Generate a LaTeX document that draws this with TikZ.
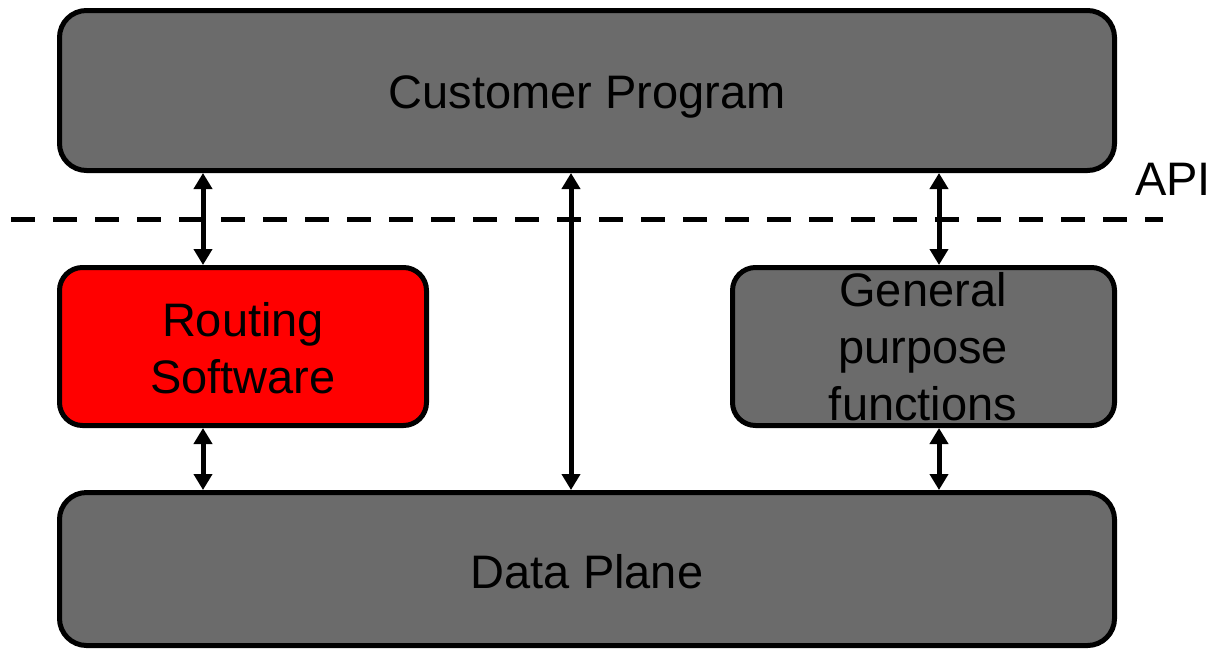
\documentclass[tikz,border=0pt]{standalone}
\usepackage{fontspec}
\setmainfont{Liberation Sans}
\usetikzlibrary{arrows.meta}
\definecolor{boxgray}{RGB}{107,107,107}
\definecolor{boxred}{RGB}{255,0,0}
\begin{document}
\begin{tikzpicture}[x=1pt,y=-1pt,
  block/.style={draw=black, line width=5pt, fill=boxgray, inner sep=0pt},
  bigblock/.style={block, rounded corners=27pt},
  smallblock/.style={block, rounded corners=23pt},
  txt/.style={inner sep=0pt, font=\fontsize{47}{57}\selectfont, align=center},
  link/.style={line width=5pt, {Triangle[width=18pt,length=16pt]}-{Triangle[width=18pt,length=16pt]}},
  apiline/.style={line width=5pt, dash pattern=on 24pt off 18pt}]
\useasboundingbox (0,0) rectangle (1212,649);

% layer boxes
\node[bigblock, minimum width=1055pt, minimum height=160pt] (cp) at (587,90.5) {};
\node[smallblock, fill=boxred, minimum width=367pt, minimum height=158pt] (rs) at (243,346.5) {};
\node[smallblock, minimum width=382pt, minimum height=158pt] (gp) at (923.5,346.5) {};
\node[bigblock, minimum width=1055pt, minimum height=153pt] (dp) at (587,569) {};

% labels
\node[txt, anchor=base] (cpt) at (587,108) {Customer Program};
\node[txt, anchor=base] (dpt) at (587,588) {Data Plane};
\node[txt] (rst) at (243,348) {Routing\\Software};
\node[txt] (gpt) at (923,347) {General\\purpose\\functions};
\node[txt, anchor=base west] (api) at (1135,195) {API};

% API boundary
\coordinate (dl) at (11,219);
\coordinate (dr) at (1163,219);
\draw[apiline] (dl) -- (dr);

% connectors
\coordinate (xl) at (203,0);
\coordinate (xm) at (571,0);
\coordinate (xr) at (939,0);
\draw[link] (cp.south -| xl) -- (rs.north -| xl);
\draw[link] (rs.south -| xl) -- (dp.north -| xl);
\draw[link] (cp.south -| xm) -- (dp.north -| xm);
\draw[link] (cp.south -| xr) -- (gp.north -| xr);
\draw[link] (gp.south -| xr) -- (dp.north -| xr);
\end{tikzpicture}
\end{document}
